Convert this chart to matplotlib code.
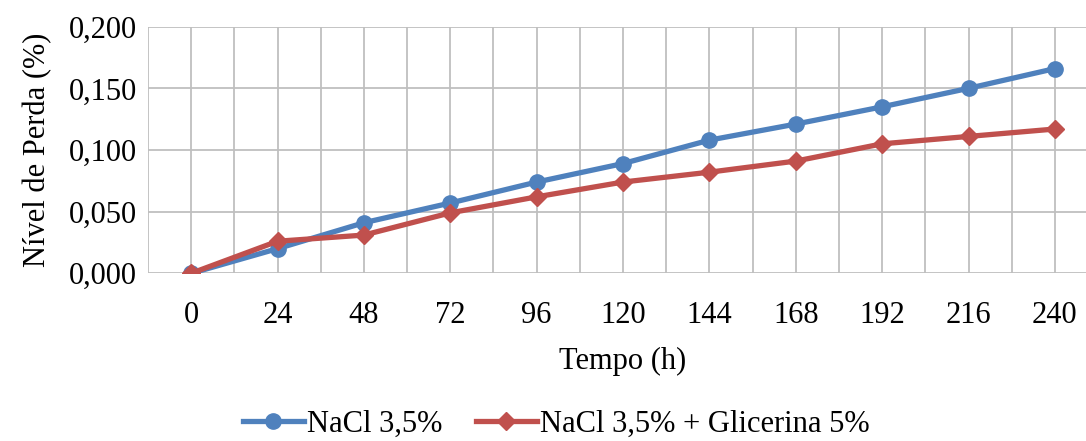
import numpy as np
from matplotlib import pyplot as plt

tempo = [0, 24, 48, 72, 96, 120, 144, 168, 192, 216, 240]
nacl = [0.000, 0.020, 0.041, 0.057, 0.074, 0.089, 0.108, 0.121, 0.135, 0.150, 0.166]
nacl_glic = [0.000, 0.026, 0.031, 0.049, 0.062, 0.074, 0.082, 0.091, 0.105, 0.111, 0.117]
yticks = [0.0, 0.05, 0.10, 0.15, 0.20]

plt.rcParams['font.family'] = ['Liberation Serif', 'DejaVu Serif']
plt.rcParams['font.size'] = 22

fig = plt.figure(figsize=(10.86, 4.41), dpi=100)
ax = fig.add_axes([0.1363, 0.3803, 0.8748, 0.5592])

ax.plot(tempo, nacl, color='#4F81BD', lw=3.8, marker='o', ms=11, label='NaCl 3,5%', zorder=3)
ax.plot(tempo, nacl_glic, color='#C0504D', lw=3.8, marker='D', ms=9, label='NaCl 3,5% + Glicerina 5%', zorder=3)

ax.set_xlim(-12, 252)
ax.set_ylim(0, 0.2)
ax.set_xticks(tempo)
ax.set_xticklabels([str(t) for t in tempo])
ax.set_xticks(np.arange(-12, 253, 24), minor=True)
ax.set_yticks(yticks)
ax.set_yticklabels([('%.3f' % v).replace('.', ',') for v in yticks])

ax.grid(which='both', axis='x', color='#BFBFBF', lw=1.3)
ax.grid(which='major', axis='y', color='#BFBFBF', lw=1.3)
ax.tick_params(which='both', length=0)
ax.tick_params(axis='x', pad=20)
ax.tick_params(axis='y', pad=8)
for s in ax.spines.values():
	s.set_visible(False)

ax.set_xlabel('Tempo (h)', labelpad=12)
ax.set_ylabel('Nível de Perda (%)', labelpad=12)

fig.legend(loc='center', bbox_to_anchor=(0.512, 0.038), ncol=2, frameon=False,
	handlelength=2.0, columnspacing=1.1, handletextpad=0.1, borderaxespad=0)

fig.savefig('out.png', dpi=100)
